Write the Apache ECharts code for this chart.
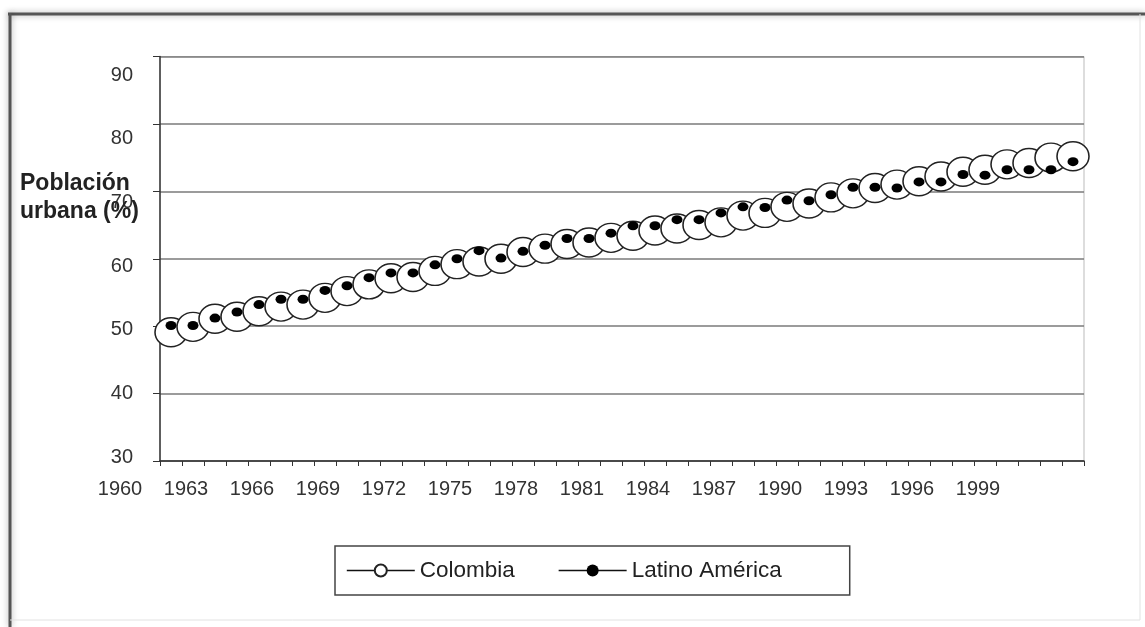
<!DOCTYPE html>
<html>
<head>
<meta charset="utf-8">
<script src="https://cdn.jsdelivr.net/npm/echarts@6/dist/echarts.min.js"></script>
<style>html,body{margin:0;padding:0;background:#fff;}#c{width:1145px;height:627px;}</style>
</head>
<body>
<div id="c"></div>
<script>
const years = ['1960','1961','1962','1963','1964','1965','1966','1967','1968','1969','1970','1971','1972','1973','1974','1975','1976','1977','1978','1979','1980','1981','1982','1983','1984','1985','1986','1987','1988','1989','1990','1991','1992','1993','1994','1995','1996','1997','1998','1999','2000','2001'];
const colombia = [49.1,49.9,51.1,51.4,52.2,52.9,53.2,54.2,55.2,56.2,57.1,57.3,58.2,59.2,59.6,60.0,61.0,61.5,62.2,62.4,63.1,63.4,64.2,64.5,65.0,65.4,66.4,66.8,67.7,68.2,69.1,69.7,70.5,71.0,71.5,72.2,72.9,73.2,74.0,74.2,75.0,75.2];
const latinoAmerica = [50.1,50.1,51.2,52.1,53.2,54.0,54.0,55.3,56.0,57.2,57.9,57.9,59.1,60.0,61.2,60.1,61.1,62.0,63.0,63.0,63.8,64.9,64.9,65.8,65.8,66.8,67.7,67.6,68.7,68.6,69.5,70.6,70.6,70.5,71.4,71.4,72.5,72.4,73.2,73.2,73.2,74.4];
const yTicks = {min: 30, max: 90, step: 10};

const FONT = 'Liberation Sans, Arial, sans-serif';
const chart = echarts.init(document.getElementById('c'), null, {renderer: 'canvas'});
chart.setOption({
  animation: false,
  backgroundColor: '#fff',
  title: {
    text: 'Población\nurbana (%)',
    left: 15, top: 165,
    textStyle: {fontFamily: FONT, fontSize: 23, fontWeight: 'bold', color: '#222', lineHeight: 28}
  },
  legend: {
    left: 335, top: 546,
    orient: 'horizontal',
    padding: [13, 68, 13, 11],
    borderColor: '#444', borderWidth: 1.5,
    itemWidth: 68, itemHeight: 15, itemGap: 43,
    textStyle: {fontFamily: FONT, fontSize: 22.5, color: '#222'},
    data: [
      {name: 'Colombia', lineStyle: {color: '#111', width: 1.6, opacity: 1}},
      {name: 'Latino América', lineStyle: {color: '#111', width: 1.6, opacity: 1}}
    ]
  },
  graphic: [
    {type: 'line', shape: {x1: 8, y1: 14, x2: 1145, y2: 14}, style: {stroke: '#555', lineWidth: 3, shadowBlur: 6, shadowColor: 'rgba(0,0,0,0.35)'}},
    {type: 'line', shape: {x1: 10, y1: 13, x2: 10, y2: 627}, style: {stroke: '#555', lineWidth: 3, shadowBlur: 6, shadowColor: 'rgba(0,0,0,0.35)'}},
    {type: 'line', shape: {x1: 10, y1: 620, x2: 1140, y2: 620}, style: {stroke: '#e2e2e2', lineWidth: 1}},
    {type: 'line', shape: {x1: 1140, y1: 14, x2: 1140, y2: 620}, style: {stroke: '#e2e2e2', lineWidth: 1}}
  ],
  grid: [
    {left: 160, right: 61, top: 56.5, bottom: 166, show: true, borderColor: '#bbb', borderWidth: 1, backgroundColor: 'transparent'},
    {left: 109, right: 112, top: 56.5, bottom: 166},
    {left: 160, right: 61, top: 75, bottom: 170}
  ],
  xAxis: [
    {type: 'category', gridIndex: 0, data: years, boundaryGap: true,
      axisLine: {lineStyle: {color: '#333', width: 1.5}},
      axisTick: {show: true, interval: 0, length: 5, lineStyle: {color: '#333', width: 1}},
      axisLabel: {show: false}, splitLine: {show: false}},
    {type: 'category', gridIndex: 1, data: years, boundaryGap: true,
      axisLine: {show: false}, axisTick: {show: false}, splitLine: {show: false},
      axisLabel: {show: true, interval: 2, margin: 18, fontFamily: FONT, fontSize: 20, color: '#333'}},
    {type: 'category', gridIndex: 2, data: years, show: false}
  ],
  yAxis: [
    {type: 'value', gridIndex: 0, min: yTicks.min, max: yTicks.max, interval: yTicks.step,
      axisLine: {show: true, lineStyle: {color: '#333', width: 1.5}},
      axisTick: {show: true, length: 7, lineStyle: {color: '#333'}},
      axisLabel: {show: false},
      splitLine: {show: true, lineStyle: {color: '#7a7a7a', width: 1.5}}},
    {type: 'value', gridIndex: 1, min: yTicks.min, max: yTicks.max, show: false},
    {type: 'value', gridIndex: 2, min: yTicks.min, max: yTicks.max, interval: yTicks.step,
      axisLine: {show: false}, axisTick: {show: false}, splitLine: {show: false},
      axisLabel: {show: true, margin: 27, fontFamily: FONT, fontSize: 20, color: '#333'}}
  ],
  series: [
    {name: 'Colombia', type: 'line', xAxisIndex: 0, yAxisIndex: 0, data: colombia,
      symbol: 'circle', symbolSize: [32, 29], showAllSymbol: true,
      itemStyle: {color: '#fff', borderColor: '#222', borderWidth: 1.5},
      lineStyle: {color: '#111', width: 1.2}, z: 2},
    {name: 'Latino América', type: 'line', xAxisIndex: 0, yAxisIndex: 0, data: latinoAmerica,
      symbol: 'circle', symbolSize: [11, 9], showAllSymbol: true,
      itemStyle: {color: '#000', borderColor: '#000', borderWidth: 0},
      lineStyle: {color: '#111', width: 1.2, opacity: 0}, z: 3}
  ]
});
</script>
</body>
</html>
